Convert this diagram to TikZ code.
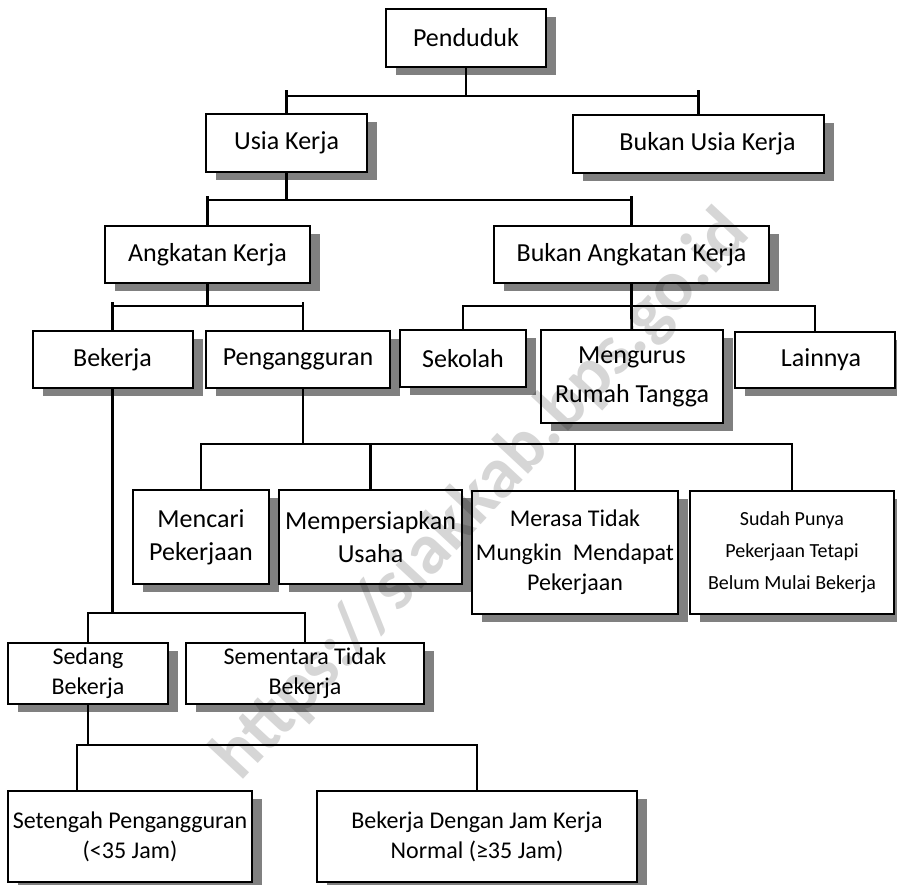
\documentclass[tikz,border=0pt]{standalone}
\usepackage{fontspec}
\setmainfont{Carlito}
\usetikzlibrary{shadows}

\begin{document}
\begin{tikzpicture}[
            x=1pt, y=-1pt,
            box/.style={draw, line width=2pt, fill=white, inner sep=1pt, align=center,
                drop shadow={shadow xshift=10pt, shadow yshift=-8pt, fill=black!50, opacity=1}},
            sz/.style 2 args={minimum width=#1pt, minimum height=#2pt},
            big/.style={font=\fontsize{26}{33}\selectfont},
            mid/.style={font=\fontsize{24}{30}\selectfont},
            small/.style={font=\fontsize{20}{32}\selectfont},
            conn/.style={line width=2.7pt, line cap=rect},
            ]
            \useasboundingbox (0,0) rectangle (897,885);

            \node[box, big, sz={160}{58}] (pend) at (466,38) {Penduduk};
            \node[box, big, sz={161}{58}] (usia) at (286.5,143) {Usia Kerja};
            \node[box, big, sz={251}{58}] (bukanusia) at (698.5,144) {\hspace*{18pt}Bukan Usia Kerja};
            \node[box, big, sz={205}{57}] (angkatan) at (207.5,254.5) {Angkatan Kerja};
            \node[box, big, sz={275}{57}] (bukanangkatan) at (631.5,254.5) {Bukan Angkatan Kerja};
            \node[box, big, sz={160}{57}] (bekerja) at (112.5,359.5) {Bekerja};
            \node[box, big, sz={184}{57}] (penganggur) at (298,359.5) {Pengangguran};
            \node[box, big, sz={126}{57}] (sekolah) at (463,358.5) {Sekolah};
            \node[box, big, sz={182}{93}] (mengurus) at (632,376.5) {Mengurus\\[6pt]Rumah Tangga};
            \node[box, big, sz={160}{56}] (lainnya) at (815,360) {\hspace*{12pt}Lainnya};
            \node[box, big, sz={136}{94}] (mencari) at (201,537) {Mencari\\Pekerjaan};
            \node[box, big, sz={183}{94}] (persiapan) at (370.5,537) {Mempersiapkan\\Usaha};
            \node[box, mid, sz={206}{123}] (merasa) at (575,552.5) {Merasa Tidak\\[4pt]Mungkin\ \ Mendapat\\Pekerjaan};
            \node[box, small, sz={204}{123}] (sudah) at (792,552.5) {Sudah Punya\\Pekerjaan Tetapi\\Belum Mulai Bekerja};
            \node[box, mid, sz={160}{61}] (sedang) at (88,673.5) {Sedang\\Bekerja};
            \node[box, mid, sz={238}{61}] (sementara) at (305,673.5) {Sementara Tidak\\Bekerja};
            \node[box, mid, sz={244}{91}] (setengah) at (130,836.5) {Setengah Pengangguran\\(<35 Jam)};
            \node[box, mid, sz={320}{91}] (normal) at (477,836.5) {Bekerja Dengan Jam Kerja\\Normal (≥35 Jam)};

            % junctions of the bars
            \coordinate (j1) at (466,96);
            \coordinate (j2) at (286.5,200);
            \coordinate (j3) at (207.5,306);
            \coordinate (j4) at (631.5,306);
            \coordinate (j5) at (303,444);
            \coordinate (j6) at (112.5,613);
            \coordinate (j7) at (88,745);
            \coordinate (k7) at (77,745);

            \draw[conn] (pend) -- (j1);
            \draw[conn] (usia) |- (j1) -| (bukanusia);
            \foreach \n in {usia, bukanusia} \draw[conn] (\n |- j1) -- ++(0,-5);
            \draw[conn] (usia) -- (j2);
            \draw[conn] (angkatan) |- (j2) -| (bukanangkatan);
            \foreach \n in {angkatan, bukanangkatan} \draw[conn] (\n |- j2) -- ++(0,-3);
            \draw[conn] (angkatan) -- (j3);
            \draw[conn] (bekerja) |- (j3) -| ([xshift=5pt]penganggur.north);
            \draw[conn] (bekerja |- j3) -- ++(0,-3);
            \draw[conn] ([xshift=5pt]penganggur.north |- j3) -- ++(0,-3);
            \draw[conn] (bukanangkatan) -- (j4);
            \draw[conn] (sekolah) |- (j4) -| (lainnya);
            \draw[conn] (mengurus) -- (j4);
            \draw[conn] ([xshift=5pt]penganggur.south) -- (j5);
            \draw[conn] (mencari) |- (j5) -| (sudah);
            \foreach \n in {persiapan, merasa} \draw[conn] (\n) -- (\n |- j5);
            \draw[conn] (bekerja) -- (j6);
            \draw[conn] (sedang) |- (j6) -| (sementara);
            \draw[conn] (sedang) -- (j7);
            \draw[conn] (setengah.north -| k7) |- (j7) -| (normal);

            \node[rotate=47, font=\fontsize{72}{72}\selectfont\bfseries, text=black, text opacity=0.16] (mark) at (482,496) {https://siakkab.bps.go.id};
        \end{tikzpicture}
\end{document}
